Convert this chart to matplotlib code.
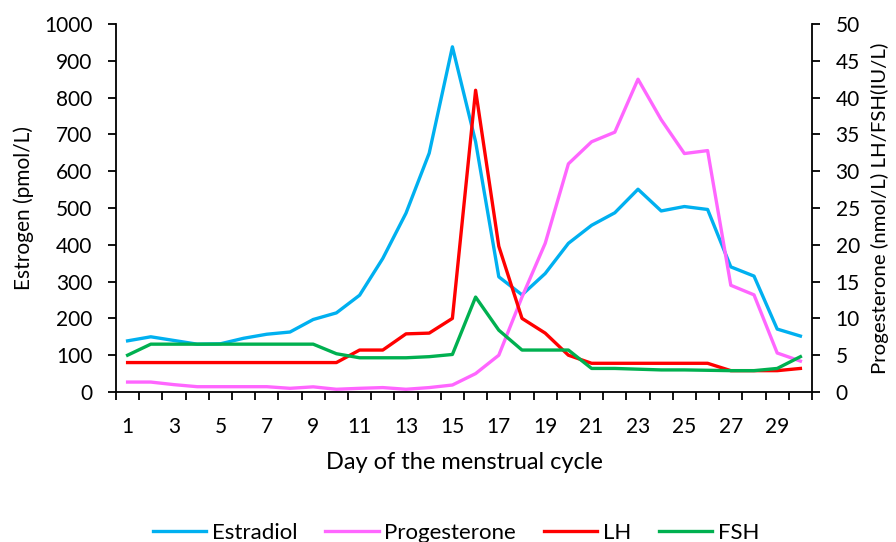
import matplotlib.pyplot as plt
import numpy as np

plt.rcParams['font.family'] = ['Lato', 'DejaVu Sans']

days = np.arange(1, 31)
# estradiol, pmol/L (left axis)
estradiol = [139, 150, 140, 130, 131, 146, 157, 163, 197, 215,
             263, 363, 486, 649, 938, 680, 313, 264, 322, 404,
             453, 487, 551, 492, 504, 496, 340, 315, 171, 152]
# progesterone nmol/L, LH and FSH IU/L (right axis)
progesterone = [1.35, 1.35, 1.0, 0.72, 0.72, 0.72, 0.72, 0.5, 0.7, 0.37,
                0.5, 0.6, 0.37, 0.6, 0.95, 2.5, 5.0, 12.9, 20.2, 31.0,
                34.0, 35.3, 42.5, 37.0, 32.4, 32.8, 14.5, 13.2, 5.3, 4.2]
lh = [4.0, 4.0, 4.0, 4.0, 4.0, 4.0, 4.0, 4.0, 4.0, 4.0,
      5.7, 5.7, 7.9, 8.0, 10.0, 41.0, 19.8, 10.0, 8.0, 5.0,
      3.9, 3.9, 3.9, 3.9, 3.9, 3.9, 2.9, 2.9, 2.9, 3.2]
fsh = [5.0, 6.5, 6.5, 6.5, 6.5, 6.5, 6.5, 6.5, 6.5, 5.2,
       4.65, 4.65, 4.65, 4.8, 5.1, 12.9, 8.4, 5.7, 5.7, 5.7,
       3.2, 3.2, 3.1, 3.0, 3.0, 2.95, 2.9, 2.9, 3.2, 4.8]

fig = plt.figure(figsize=(8.96, 5.42), dpi=100)
ax = fig.add_axes([116/896, 1-392/542, 696/896, 368/542])
ax2 = ax.twinx()

lw = 2.4
l1, = ax.plot(days, estradiol, color='#00B0F0', lw=lw, label='Estradiol')
l2, = ax2.plot(days, progesterone, color='#FF66FF', lw=lw, label='Progesterone')
l3, = ax2.plot(days, lh, color='#FF0000', lw=lw, label='LH')
l4, = ax2.plot(days, fsh, color='#00B050', lw=lw, label='FSH')

ax.set_xlim(0.5, 30.5)
ax.set_ylim(0, 1000)
ax2.set_ylim(0, 50)
ax.set_yticks(np.arange(0, 1001, 100))
ax2.set_yticks(np.arange(0, 51, 5))

# category labels on odd days, tick marks between categories
ax.set_xticks(np.arange(1, 31, 2))
ax.set_xticks(np.arange(0.5, 31, 1), minor=True)
ax.tick_params(axis='x', which='major', length=0, pad=18, labelsize=15)
ax.tick_params(axis='x', which='minor', length=6, width=1.3, direction='out')
ax.tick_params(axis='y', length=6, width=1.3, pad=11, labelsize=15)
ax2.tick_params(axis='y', length=6, width=1.3, pad=11, labelsize=15)

for a in (ax, ax2):
    a.spines['top'].set_visible(False)
    for s in ('left', 'right', 'bottom'):
        a.spines[s].set_linewidth(1.3)
ax.spines['right'].set_visible(False)
ax2.spines['left'].set_visible(False)
ax2.spines['bottom'].set_visible(False)

ax.set_xlabel('Day of the menstrual cycle', fontsize=17, labelpad=11)
ax.set_ylabel('Estrogen (pmol/L)', fontsize=15, labelpad=7)
ax2.set_ylabel('Progesterone (nmol/L) LH/FSH(IU/L)', fontsize=14.7, labelpad=8)

fig.legend(handles=[l1, l2, l3, l4], loc='center', bbox_to_anchor=(456/896, 1-533/542),
           ncol=4, frameon=False, fontsize=16, handlelength=2.4, handletextpad=0.25,
           columnspacing=1.25, borderpad=0)

fig.savefig('out.png', dpi=100)
